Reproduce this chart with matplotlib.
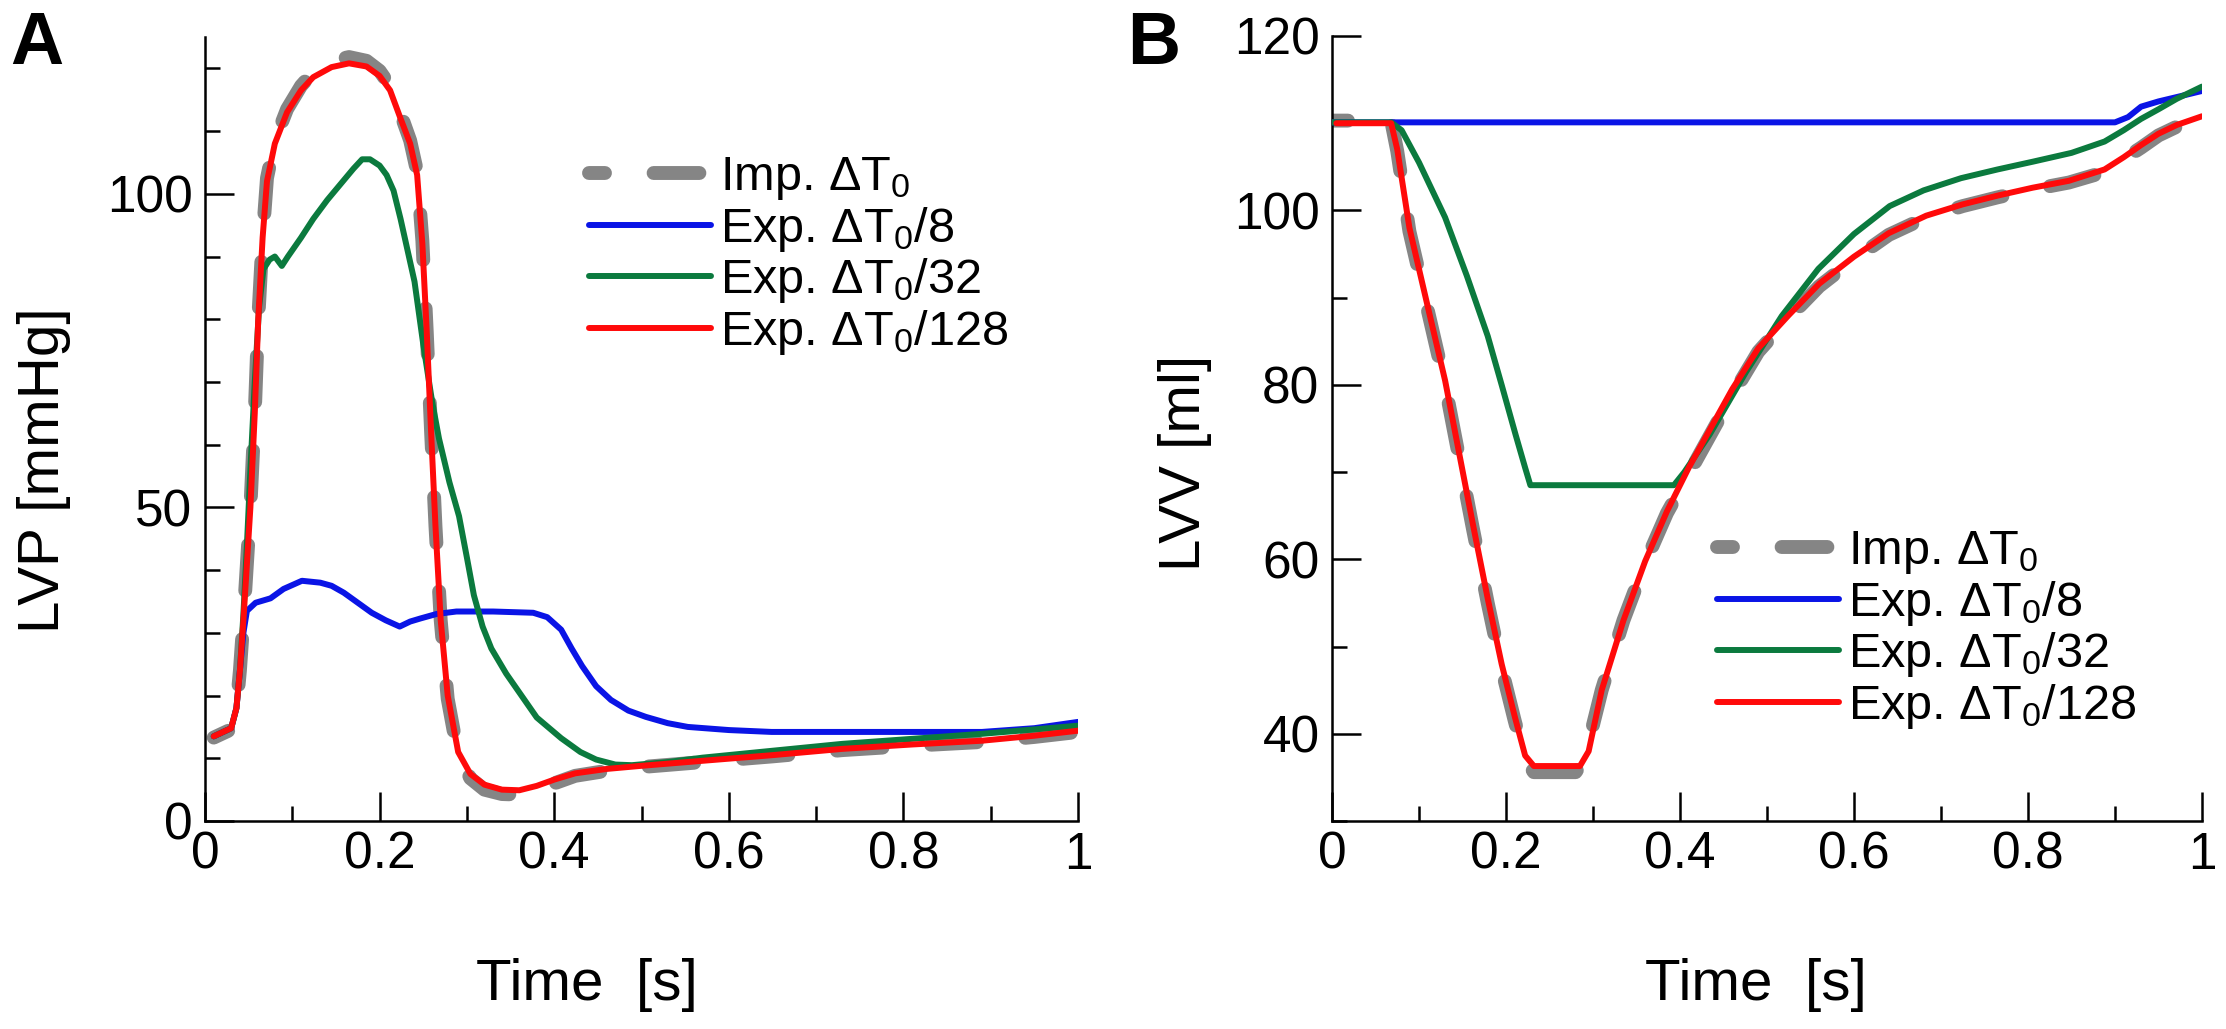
import matplotlib
matplotlib.use("Agg")
import matplotlib.pyplot as plt
from matplotlib.ticker import MultipleLocator

plt.rcParams['font.family'] = ['Liberation Sans', 'DejaVu Sans']
plt.rcParams['mathtext.fontset'] = 'custom'
plt.rcParams['mathtext.rm'] = 'Liberation Sans'
plt.rcParams['mathtext.it'] = 'Liberation Sans:italic'
plt.rcParams['mathtext.bf'] = 'Liberation Sans:bold'

# ---- panel A: LVP [mmHg] ----
t_p_imp = [0.01, 0.03, 0.036, 0.04, 0.044, 0.048, 0.052, 0.057, 0.061, 0.066, 0.071, 0.08, 0.094,
           0.11, 0.124, 0.145, 0.165, 0.185, 0.2, 0.212, 0.224, 0.235, 0.243, 0.249, 0.254, 0.259,
           0.264, 0.27, 0.278, 0.29, 0.304, 0.32, 0.34, 0.36, 0.38, 0.4, 0.424, 0.46, 0.5, 0.57,
           0.65, 0.73, 0.81, 0.89, 0.95, 1.0]
p_imp = [13.3, 14.6, 18, 24, 32, 41, 50, 65, 80, 93, 102.5, 108.5, 113.5,
         117.2, 119.4, 121.2, 121.8, 121.2, 119.6, 117.2, 112.8, 108.5, 103.5, 92.5, 78, 62,
         47, 32, 19.5, 10.5, 6.8, 5.0, 4.3, 4.2, 4.9, 6.0, 7.2, 8.0, 8.6, 9.4,
         10.3, 11.3, 12.0, 12.6, 13.4, 14.2]

t_p_128 = t_p_imp
p_128 = [13.5, 14.8, 18, 24, 32, 41, 50, 65, 80, 93, 102, 108, 113,
         116.5, 118.6, 120.2, 120.8, 120.3, 118.8, 116.5, 112, 108, 103, 92, 78, 62,
         47, 32, 20, 11, 7.5, 5.8, 5.0, 4.9, 5.6, 6.6, 7.6, 8.3, 8.8, 9.6,
         10.5, 11.5, 12.2, 12.8, 13.6, 14.4]

t_p_32 = [0.01, 0.03, 0.036, 0.04, 0.044, 0.048, 0.052, 0.057, 0.062, 0.067, 0.074, 0.08, 0.088,
          0.095, 0.11, 0.124, 0.14, 0.155, 0.17, 0.18, 0.189, 0.2, 0.208, 0.216, 0.224, 0.232,
          0.24, 0.25, 0.26, 0.268, 0.28, 0.291, 0.3, 0.308, 0.318, 0.328, 0.345, 0.36, 0.38,
          0.408, 0.43, 0.448, 0.47, 0.489, 0.53, 0.57, 0.65, 0.73, 0.81, 0.89, 0.95, 1.0]
p_32 = [13.5, 14.8, 18, 24, 33, 44, 56, 70, 82, 88, 89.5, 90, 88.5,
        90, 93, 96, 99, 101.5, 104, 105.5, 105.5, 104.5, 103, 100.5, 96, 91,
        86, 76, 67, 61, 54, 48.6, 42, 36, 31, 27.5, 23.5, 20.5, 16.5,
        13.2, 11, 9.8, 9.0, 8.9, 9.4, 10.1, 11.2, 12.3, 13.1, 13.9, 14.6, 15.2]

t_p_8 = [0.01, 0.03, 0.036, 0.04, 0.044, 0.048, 0.058, 0.075, 0.09, 0.111, 0.132, 0.145, 0.159,
         0.175, 0.191, 0.207, 0.223, 0.235, 0.247, 0.265, 0.288, 0.33, 0.376, 0.392, 0.408, 0.42,
         0.432, 0.448, 0.465, 0.485, 0.505, 0.53, 0.553, 0.6, 0.649, 0.754, 0.89, 0.95, 1.0]
p_8 = [13.5, 14.8, 18, 24, 30, 33.5, 34.8, 35.5, 37, 38.3, 38, 37.5, 36.4,
       34.8, 33.2, 32, 31, 31.8, 32.3, 33, 33.4, 33.4, 33.2, 32.5, 30.5, 27.5,
       24.7, 21.5, 19.3, 17.6, 16.6, 15.6, 15, 14.5, 14.2, 14.2, 14.2, 14.8, 15.8]

# ---- panel B: LVV [ml] ----
t_v_imp = [0.0, 0.068, 0.075, 0.089, 0.11, 0.13, 0.162, 0.179, 0.195, 0.21, 0.222, 0.232, 0.28,
           0.29, 0.31, 0.335, 0.36, 0.385, 0.41, 0.435, 0.46, 0.49, 0.525, 0.56, 0.6, 0.64,
           0.683, 0.725, 0.765, 0.805, 0.847, 0.888, 0.91, 0.93, 0.95, 0.971, 1.0]
v_imp = [110.3, 110.3, 106.8, 97.6, 88.6, 80, 63.5, 55, 47.5, 41.5, 37, 35.6, 35.6,
         37, 45, 53, 59.6, 65.3, 69.8, 74.3, 78.8, 83.8, 87.7, 91.3, 94.4, 97.2,
         99.2, 100.5, 101.5, 102.4, 103.2, 104.4, 105.9, 107.2, 108.6, 109.6, 110.5]

t_v_128 = [0.005, 0.068, 0.075, 0.089, 0.11, 0.13, 0.162, 0.179, 0.195, 0.21, 0.222, 0.232, 0.285,
           0.295, 0.31, 0.335, 0.36, 0.385, 0.41, 0.435, 0.46, 0.49, 0.525, 0.56, 0.6, 0.64,
           0.683, 0.725, 0.765, 0.805, 0.847, 0.888, 0.91, 0.93, 0.95, 0.971, 1.0]
v_128 = [110.0, 110.0, 107, 98, 89, 80.5, 64, 55.5, 48, 42, 37.5, 36.3, 36.3,
         38, 45, 53, 59.8, 65.5, 70.5, 75, 79.5, 84.2, 88, 91.6, 94.7, 97.4,
         99.4, 100.7, 101.7, 102.6, 103.4, 104.7, 106.1, 107.5, 108.8, 109.8, 110.8]

t_v_32 = [0.0, 0.068, 0.08, 0.1, 0.13, 0.155, 0.179, 0.195, 0.211, 0.222, 0.228, 0.393, 0.405,
          0.434, 0.476, 0.517, 0.559, 0.6, 0.641, 0.68, 0.723, 0.765, 0.806, 0.85, 0.888, 0.91,
          0.93, 0.95, 0.971, 1.0]
v_32 = [110.1, 110.1, 109.2, 105.5, 99.2, 92.5, 85.6, 80, 74.3, 70.5, 68.5, 68.5, 70,
        74.3, 81.5, 87.9, 93.3, 97.3, 100.5, 102.3, 103.7, 104.7, 105.6, 106.6, 107.9, 109.2,
        110.5, 111.6, 112.8, 114.2]

t_v_8 = [0.0, 0.9, 0.915, 0.93, 0.95, 0.971, 1.0]
v_8 = [110.1, 110.1, 110.7, 111.9, 112.5, 113, 113.7]

labels = [r'Imp. ΔT$_0$', r'Exp. ΔT$_0$/8', r'Exp. ΔT$_0$/32', r'Exp. ΔT$_0$/128']
c_gray, c_blue, c_green, c_red = '#858585', '#0a14e6', '#0b7a3e', '#ff0a0a'

W, H = 2226, 1029
fig = plt.figure(figsize=(W / 100, H / 100), dpi=100)
axA = fig.add_axes([205 / W, 1 - 821 / H, 873 / W, (821 - 37) / H])
axB = fig.add_axes([1332 / W, 1 - 821 / H, 870 / W, (821 - 36) / H])


def draw(ax, series):
    lines = []
    for i, (t, v) in enumerate(series):
        if i == 0:
            ln, = ax.plot(t, v, color=c_gray, lw=10, linestyle=(2.15, (3.3, 3.5)),
                          dash_capstyle='round', zorder=2)
        else:
            ln, = ax.plot(t, v, color=[c_blue, c_green, c_red][i - 1], lw=4.3,
                          solid_capstyle='round', zorder=2 + i)
        lines.append(ln)
    return lines


linesA = draw(axA, [(t_p_imp, p_imp), (t_p_8, p_8), (t_p_32, p_32), (t_p_128, p_128)])
linesB = draw(axB, [(t_v_imp, v_imp), (t_v_8, v_8), (t_v_32, v_32), (t_v_128, v_128)])

axA.set_xlim(0, 1)
axA.set_ylim(0, 125)
axA.yaxis.set_major_locator(MultipleLocator(50))
axA.yaxis.set_minor_locator(MultipleLocator(10))
axB.set_xlim(0, 1)
axB.set_ylim(30, 120)
axB.yaxis.set_major_locator(MultipleLocator(20))
axB.yaxis.set_minor_locator(MultipleLocator(10))

for ax in (axA, axB):
    ax.xaxis.set_major_locator(MultipleLocator(0.2))
    ax.xaxis.set_minor_locator(MultipleLocator(0.1))
    ax.set_xticks([0, 0.2, 0.4, 0.6, 0.8, 1.0])
    ax.set_xticklabels(['0', '0.2', '0.4', '0.6', '0.8', '1'])
    for s in ('top', 'right'):
        ax.spines[s].set_visible(False)
    for s in ('left', 'bottom'):
        ax.spines[s].set_linewidth(1.8)
    ax.tick_params(which='both', direction='in', width=1.8, labelsize=37)
    ax.tick_params(which='major', length=21)
    ax.tick_params(which='minor', length=11)
    ax.tick_params(axis='y', pad=9)
    ax.tick_params(axis='x', pad=7)
    ax.patch.set_alpha(0)

fig.text(44 / W, 1 - 470 / H, 'LVP [mmHg]', rotation=90, ha='center', va='center', fontsize=42)
fig.text(1185 / W, 1 - 463 / H, 'LVV [ml]', rotation=90, ha='center', va='center', fontsize=42)
fig.text(587 / W, 1 - 985 / H, 'Time  [s]', ha='center', va='center', fontsize=42)
fig.text(1756 / W, 1 - 985 / H, 'Time  [s]', ha='center', va='center', fontsize=42)

fig.text(10 / W, 1 - 10 / H, 'A', fontsize=53, fontweight='bold', ha='left', va='top')
fig.text(1127 / W, 1 - 10 / H, 'B', fontsize=53, fontweight='bold', ha='left', va='top')

leg_kw = dict(frameon=False, fontsize=35, handlelength=2.5, handletextpad=0.2,
              labelspacing=0.05, borderpad=0, borderaxespad=0, loc='center left')
fig.legend(linesA, labels, bbox_to_anchor=(589 / W, 1 - 256 / H), **leg_kw)
fig.legend(linesB, labels, bbox_to_anchor=(1717 / W, 1 - 630 / H), **leg_kw)

fig.savefig('out.png', dpi=100, facecolor='white')
